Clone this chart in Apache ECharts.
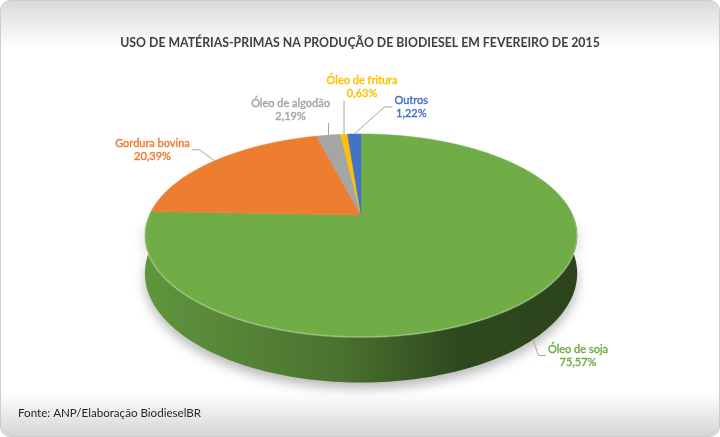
<!DOCTYPE html>
<html>
<head>
<meta charset="utf-8">
<script src="https://cdn.jsdelivr.net/npm/echarts@6/dist/echarts.min.js"></script>
<style>
  html, body { margin: 0; padding: 0; background: #fff; }
  #chart { width: 720px; height: 437px; }
</style>
</head>
<body>
<div id="chart"></div>
<script>
// dados
const categorias = ['Óleo de soja', 'Gordura bovina', 'Óleo de algodão', 'Óleo de fritura', 'Outros']
const percentuais = [75.57, 20.39, 2.19, 0.63, 1.22]
const cores = ['#70AD47', '#ED7D31', '#A5A5A5', '#FFC000', '#4472C4']

// deslocamento do rótulo em relação ao ponto de ancoragem (layout)
const deslocRotulo = [[45, 16], [-62, -11], [-38, -25], [18, -47], [57, -27]]

const FONTE = 'Lato, "Open Sans", sans-serif'

const chart = echarts.init(document.getElementById('chart'))

const medidor = document.createElement('canvas').getContext('2d')
function larguraTexto(txt, tamanho) {
  medidor.font = tamanho + 'px ' + FONTE
  return medidor.measureText(txt).width
}

function escurecer(hex, f) {
  const n = parseInt(hex.slice(1), 16)
  const r = Math.round(((n >> 16) & 255) * f)
  const g = Math.round(((n >> 8) & 255) * f)
  const b = Math.round((n & 255) * f)
  return `rgb(${r},${g},${b})`
}

function formatarPct(v) {
  return v.toFixed(2).replace('.', ',') + '%'
}

/**
 * desenha uma fatia da pizza 3D em perspectiva
 */
function renderFatia(params, api) {
  const i = params.dataIndex
  const W = api.getWidth()
  const H = api.getHeight()
  const cx = W * 0.5014
  const cy = H * 0.492
  const B = W * 0.294
  const A = H * 0.223
  const c = 0.202
  const T = H * 0.083
  const total = percentuais.reduce((s, v) => s + v, 0)
  let acum = 0
  for (let k = 0; k < i; k++) acum += percentuais[k]
  const t0 = acum / total * Math.PI * 2
  const t1 = (acum + api.value(0)) / total * Math.PI * 2

  const proj = (t, baixo) => {
    const u = Math.sin(t)
    const v = -Math.cos(t)
    const w = 1 - c * v
    return [cx + B * u / w, cy + A * v / w + (baixo ? T / w : 0)]
  }
  const arco = (a, b, baixo) => {
    const n = Math.max(2, Math.ceil((b - a) / 0.01))
    const pts = []
    for (let k = 0; k <= n; k++) pts.push(proj(a + (b - a) * k / n, baixo))
    return pts
  }

  const cor = cores[i]
  const filhos = []

  // parede lateral (parte da frente)
  const w0 = Math.max(t0, Math.PI / 2)
  const w1 = Math.min(t1, Math.PI * 1.5)
  if (w1 > w0) {
    const pts = arco(w0, w1, false).concat(arco(w0, w1, true).reverse())
    filhos.push({
      type: 'polygon',
      z2: 1,
      shape: { points: pts },
      style: {
        fill: new echarts.graphic.LinearGradient(cx - B * 1.03, 0, cx + B * 1.03, 0, [
          { offset: 0, color: escurecer(cor, 0.86) },
          { offset: 0.45, color: escurecer(cor, 0.66) },
          { offset: 0.72, color: escurecer(cor, 0.42) },
          { offset: 1, color: escurecer(cor, 0.39) }
        ], true),
        shadowBlur: 12,
        shadowOffsetY: 6,
        shadowColor: 'rgba(0,0,0,0.28)'
      }
    })
    filhos.push({
      type: 'polyline',
      z2: 6,
      shape: { points: arco(w0, w1, false) },
      style: { stroke: 'rgba(255,255,255,0.22)', lineWidth: 2, fill: null }
    })
  }

  // face de cima
  filhos.push({
    type: 'polygon',
    z2: 5,
    shape: { points: [[cx, cy]].concat(arco(t0, t1, false)) },
    style: { fill: cor, stroke: cor, lineWidth: 0.5 }
  })

  // rótulo e linha guia
  const tm = (t0 + t1) / 2
  const frente = -Math.cos(tm) > 0
  const anc = proj(tm, frente)
  const lx = anc[0] + deslocRotulo[i][0]
  const ly = anc[1] + deslocRotulo[i][1]
  const linha1 = categorias[i]
  const linha2 = formatarPct(percentuais[i])
  const bw = Math.max(larguraTexto(linha1, 11), larguraTexto(linha2, 11))
  const bh = 26
  const esq = lx - bw / 2
  const dir = lx + bw / 2
  let fim, cotovelo
  if (anc[0] > dir) {
    fim = [dir + 2, ly]
    cotovelo = [dir + 2 + Math.min(8, (anc[0] - dir) / 2), ly]
  } else if (anc[0] < esq) {
    fim = [esq - 2, ly]
    cotovelo = [esq - 2 - Math.min(8, (esq - anc[0]) / 2), ly]
  } else {
    fim = [anc[0], anc[1] > ly ? ly + bh / 2 : ly - bh / 2]
    cotovelo = fim
  }
  filhos.push({
    type: 'polyline',
    z2: 7,
    shape: { points: [fim, cotovelo, anc] },
    style: { stroke: '#a6a6a6', lineWidth: 1, fill: null }
  })
  filhos.push({
    type: 'text',
    z2: 8,
    x: lx,
    y: ly,
    style: {
      text: linha1 + '\n' + linha2,
      align: 'center',
      verticalAlign: 'middle',
      lineHeight: 13,
      fill: cor,
      stroke: cor,
      lineWidth: 0.4,
      font: '11px ' + FONTE
    }
  })

  return { type: 'group', children: filhos }
}

const option = {
  animation: false,
  backgroundColor: '#ffffff',
  title: {
    text: 'USO DE MATÉRIAS-PRIMAS NA PRODUÇÃO DE BIODIESEL EM FEVEREIRO DE 2015',
    left: 'center',
    top: 32,
    padding: [5, 0, 5, 9],
    textStyle: { fontFamily: FONTE, fontSize: 12.3, fontWeight: 'bold', color: '#404040' }
  },
  graphic: [
    {
      type: 'rect',
      z: -10,
      silent: true,
      shape: { x: 0.5, y: 0.5, width: 719, height: 436, r: 10 },
      style: {
        fill: new echarts.graphic.LinearGradient(0, 0, 0, 1, [
          { offset: 0, color: '#d9d9d9' },
          { offset: 0.11, color: '#ffffff' },
          { offset: 0.9, color: '#ffffff' },
          { offset: 1, color: '#d4d4d4' }
        ]),
        stroke: '#cdcdcd',
        lineWidth: 1
      }
    },
    {
      type: 'text',
      left: 18,
      top: 407,
      style: {
        text: 'Fonte: ANP/Elaboração BiodieselBR',
        font: '11.6px ' + FONTE,
        fill: '#262626'
      }
    }
  ],
  series: [
    {
      type: 'custom',
      coordinateSystem: 'none',
      renderItem: renderFatia,
      data: percentuais.map((v, i) => ({ name: categorias[i], value: [v] }))
    }
  ]
}

chart.setOption(option)
</script>
</body>
</html>
